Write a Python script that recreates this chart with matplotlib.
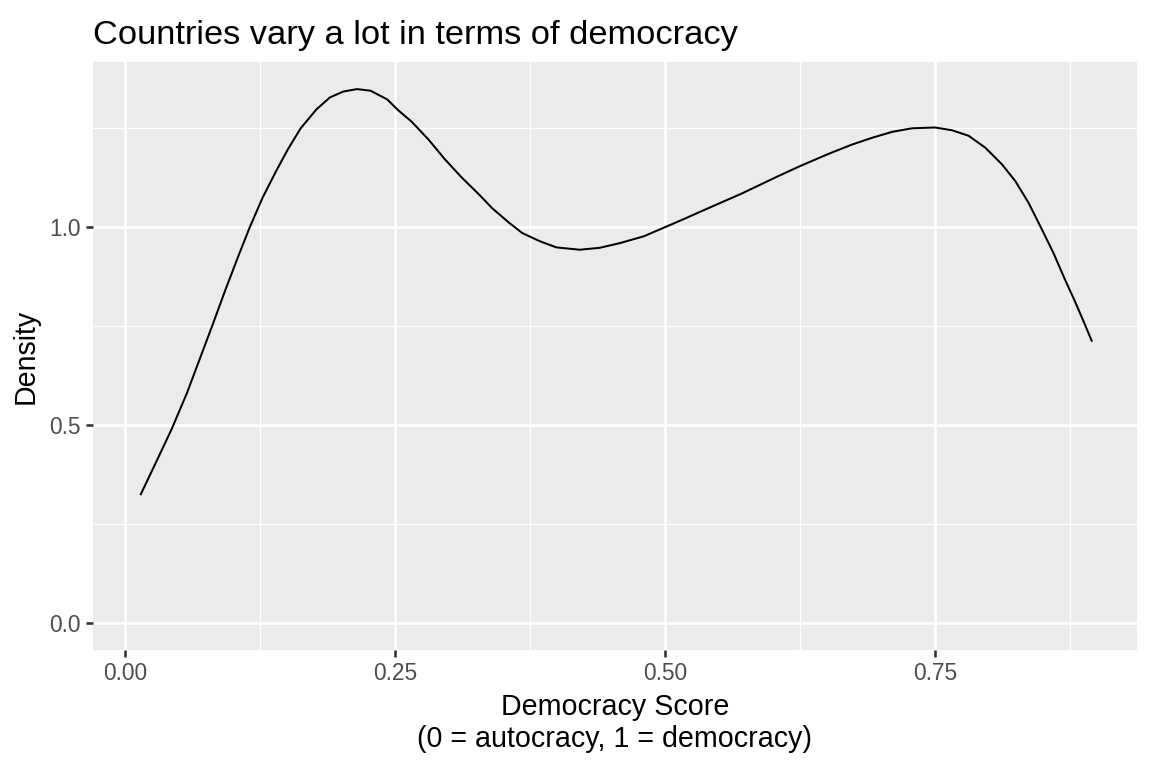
import matplotlib.pyplot as plt
from matplotlib.ticker import FixedLocator

plt.rcParams['font.family'] = ['Liberation Sans', 'DejaVu Sans']

# density estimate
score = [0.0147, 0.0309, 0.0433, 0.0573, 0.0683, 0.0807, 0.0932, 0.1057,
         0.1156, 0.1275, 0.140, 0.1509, 0.1627, 0.1774, 0.1898, 0.2023,
         0.2148, 0.2273, 0.2428, 0.2528, 0.2653, 0.2809, 0.2964, 0.312,
         0.3277, 0.340, 0.3557, 0.368, 0.3837, 0.3993, 0.4211, 0.4398,
         0.4586, 0.4804, 0.500, 0.5178, 0.5334, 0.571, 0.604, 0.6255,
         0.652, 0.6733, 0.6918, 0.7103, 0.7288, 0.750, 0.7657, 0.7811,
         0.7965, 0.8119, 0.8242, 0.8365, 0.8479, 0.8596, 0.8704, 0.8796,
         0.8889, 0.895]
density = [0.325, 0.418, 0.490, 0.580, 0.660, 0.750, 0.843, 0.932,
           1.000, 1.075, 1.142, 1.197, 1.250, 1.298, 1.328, 1.343,
           1.349, 1.345, 1.323, 1.296, 1.267, 1.222, 1.171, 1.125,
           1.083, 1.048, 1.011, 0.985, 0.965, 0.949, 0.943, 0.948,
           0.960, 0.977, 1.000, 1.021, 1.040, 1.085, 1.128, 1.155,
           1.186, 1.209, 1.226, 1.241, 1.250, 1.252, 1.245, 1.231,
           1.201, 1.159, 1.117, 1.062, 1.000, 0.935, 0.867, 0.812,
           0.753, 0.713]

x_ticks = [0.00, 0.25, 0.50, 0.75]
x_labels = ["0.00", "0.25", "0.50", "0.75"]
y_ticks = [0.0, 0.5, 1.0]
y_labels = ["0.0", "0.5", "1.0"]

fig = plt.figure(figsize=(8, 16 / 3), dpi=144)
ax = fig.add_axes([0.0807, 0.154, 0.9063, 0.765])

ax.set_facecolor("#EBEBEB")
for s in ax.spines.values():
    s.set_visible(False)

ax.set_xlim(-0.0296, 0.937)
ax.set_ylim(-0.068, 1.417)

ax.set_xticks(x_ticks)
ax.set_xticklabels(x_labels)
ax.set_yticks(y_ticks)
ax.set_yticklabels(y_labels)
ax.xaxis.set_minor_locator(FixedLocator([0.125, 0.375, 0.625, 0.875]))
ax.yaxis.set_minor_locator(FixedLocator([0.25, 0.75, 1.25]))

ax.grid(which="major", color="white", linewidth=1.3)
ax.grid(which="minor", color="white", linewidth=0.65)
ax.set_axisbelow(True)
ax.tick_params(which="major", length=3.6, width=1.3, color="#333333",
               labelsize=11.4, labelcolor="#4D4D4D", pad=2.5)
ax.tick_params(which="minor", length=0)

ax.plot(score, density, color="black", linewidth=1.0)

ax.set_xlabel("Democracy Score\n(0 = autocracy, 1 = democracy)", fontsize=14.3,
              labelpad=4, linespacing=1.2)
ax.set_ylabel("Density", fontsize=14.3, labelpad=5)
ax.set_title("Countries vary a lot in terms of democracy", fontsize=17.2,
             loc="left", pad=9)

fig.savefig("out.png", dpi=144)
